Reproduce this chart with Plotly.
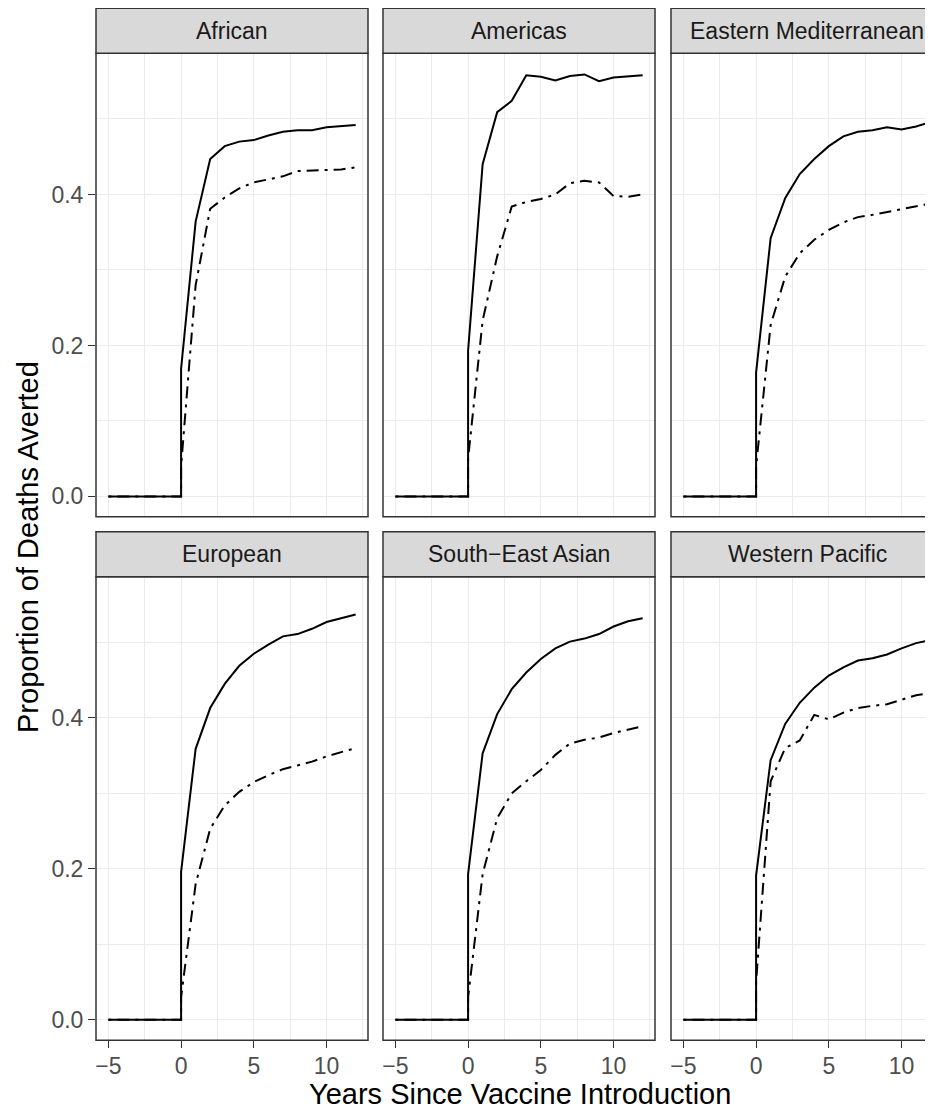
import plotly.graph_objects as go

# ---------------- data ----------------
regions = ["African", "Americas", "Eastern Mediterranean",
           "European", "South\u2212East Asian", "Western Pacific"]
years = [-5, -4, -3, -2, -1, 0, 0, 1, 2, 3, 4, 5, 6, 7, 8, 9, 10, 11, 12]
pre = [0, 0, 0, 0, 0, 0]

african_solid = pre + [0.169, 0.364, 0.447, 0.464, 0.470, 0.472, 0.478, 0.483, 0.485, 0.485, 0.489, 0.491, 0.492]
african_dash = pre + [0.040, 0.280, 0.381, 0.396, 0.408, 0.416, 0.420, 0.424, 0.431, 0.432, 0.432, 0.433, 0.436]
americas_solid = pre + [0.193, 0.440, 0.509, 0.524, 0.558, 0.556, 0.551, 0.557, 0.559, 0.550, 0.555, 0.556, 0.558]
americas_dash = pre + [0.050, 0.233, 0.318, 0.384, 0.390, 0.394, 0.400, 0.415, 0.418, 0.416, 0.398, 0.397, 0.400]
emed_solid = pre + [0.164, 0.342, 0.395, 0.427, 0.447, 0.464, 0.477, 0.483, 0.485, 0.489, 0.486, 0.490, 0.496]
emed_dash = pre + [0.040, 0.227, 0.291, 0.322, 0.340, 0.353, 0.363, 0.370, 0.373, 0.377, 0.381, 0.384, 0.388]
euro_solid = pre + [0.196, 0.359, 0.413, 0.445, 0.469, 0.485, 0.497, 0.508, 0.511, 0.518, 0.527, 0.532, 0.537]
euro_dash = pre + [0.030, 0.180, 0.253, 0.284, 0.302, 0.315, 0.324, 0.332, 0.337, 0.342, 0.349, 0.355, 0.360]
sea_solid = pre + [0.193, 0.353, 0.405, 0.438, 0.460, 0.478, 0.492, 0.501, 0.505, 0.511, 0.521, 0.528, 0.532]
sea_dash = pre + [0.030, 0.193, 0.267, 0.300, 0.316, 0.331, 0.351, 0.366, 0.371, 0.374, 0.380, 0.384, 0.389]
wp_solid = pre + [0.191, 0.344, 0.392, 0.420, 0.440, 0.456, 0.467, 0.476, 0.479, 0.484, 0.492, 0.499, 0.503]
wp_dash = pre + [0.050, 0.316, 0.360, 0.370, 0.404, 0.398, 0.407, 0.413, 0.416, 0.418, 0.424, 0.430, 0.433]

solid_series = [african_solid, americas_solid, emed_solid, euro_solid, sea_solid, wp_solid]
dash_series = [african_dash, americas_dash, emed_dash, euro_dash, sea_dash, wp_dash]

x_tickvals = [-5, 0, 5, 10]
x_ticktext = ["\u22125", "0", "5", "10"]
x_minor = [-2.5, 2.5, 7.5, 12.5]
y_tickvals = [0.0, 0.2, 0.4]
y_ticktext = ["0.0", "0.2", "0.4"]
y_minor = [0.1, 0.3, 0.5]

x_title = "Years Since Vaccine Introduction"
y_title = "Proportion of Deaths Averted"

# ---------------- layout geometry (pixels) ----------------
# The page body has an 8px margin, so figure pixels = window pixels - 8.
OFF = 8
WIN_W, WIN_H = 933, 1113
W, H = WIN_W - OFF, WIN_H - OFF
col_left = [96 - OFF, 383 - OFF, 671 - OFF]
panel_w = 272
row_top = [53.3 - OFF, 576.7 - OFF]
panel_h = 463.5
strip_h = 45
x_range = [-5.85, 12.85]
y_range = [-0.027, 0.587]
px_per_unit = panel_w / (x_range[1] - x_range[0])

FONT = "Liberation Sans, Arial, Helvetica, sans-serif"
GRID = "#EBEBEB"
BORDER = "#333333"

fig = go.Figure()
layout = dict(
    width=W, height=H, autosize=False,
    margin=dict(l=0, r=0, t=0, b=0),
    paper_bgcolor="white", plot_bgcolor="white",
    showlegend=False,
    font=dict(family=FONT, color="#4D4D4D", size=23),
)
shapes = []
annotations = []

for i, name in enumerate(regions):
    r, c = divmod(i, 3)
    left = col_left[c]
    right_full = left + panel_w
    right_vis = min(right_full, W)
    top = row_top[r]
    bottom = top + panel_h
    xr = [x_range[0], x_range[0] + (right_vis - left) / px_per_unit]
    suffix = "" if i == 0 else str(i + 1)
    xa = "xaxis" + suffix
    ya = "yaxis" + suffix

    layout[xa] = dict(
        domain=[left / W, right_vis / W], range=xr, anchor="y" + suffix,
        tickvals=x_tickvals, ticktext=x_ticktext,
        showgrid=True, gridcolor=GRID, gridwidth=1.4, zeroline=False,
        minor=dict(tickvals=x_minor, showgrid=True, gridcolor=GRID, gridwidth=0.7, ticks=""),
        showticklabels=(r == 1),
        ticks="outside" if r == 1 else "", ticklen=7, tickwidth=1.4, tickcolor=BORDER,
        ticklabelstandoff=-2,
        tickfont=dict(size=23, color="#4D4D4D", family=FONT),
        showline=False, fixedrange=True,
    )
    layout[ya] = dict(
        domain=[1 - bottom / H, 1 - top / H], range=y_range, anchor="x" + suffix,
        tickvals=y_tickvals, ticktext=y_ticktext,
        showgrid=True, gridcolor=GRID, gridwidth=1.4, zeroline=False,
        minor=dict(tickvals=y_minor, showgrid=True, gridcolor=GRID, gridwidth=0.7, ticks=""),
        showticklabels=(c == 0),
        ticks="outside" if c == 0 else "", ticklen=7, tickwidth=1.4, tickcolor=BORDER,
        tickfont=dict(size=23, color="#4D4D4D", family=FONT),
        showline=False, fixedrange=True,
    )

    fig.add_trace(go.Scatter(
        x=years, y=dash_series[i], mode="lines", xaxis="x" + suffix, yaxis="y" + suffix,
        line=dict(color="black", width=2, dash="3px,6px,12px,6px"), hoverinfo="skip",
    ))
    fig.add_trace(go.Scatter(
        x=years, y=solid_series[i], mode="lines", xaxis="x" + suffix, yaxis="y" + suffix,
        line=dict(color="black", width=2), hoverinfo="skip",
    ))

    # panel border
    shapes.append(dict(type="rect", xref="paper", yref="paper",
                       x0=left / W, x1=right_full / W, y0=1 - bottom / H, y1=1 - top / H,
                       line=dict(color=BORDER, width=1.5), fillcolor="rgba(0,0,0,0)", layer="above"))
    # strip
    shapes.append(dict(type="rect", xref="paper", yref="paper",
                       x0=left / W, x1=right_full / W, y0=1 - top / H, y1=1 - (top - strip_h) / H,
                       line=dict(color=BORDER, width=1.5), fillcolor="#D9D9D9", layer="above"))
    annotations.append(dict(
        text=name, xref="paper", yref="paper",
        x=(left + right_full) / 2 / W, y=1 - (top - strip_h / 2) / H,
        xanchor="center", yanchor="middle", showarrow=False,
        font=dict(size=23, color="#1A1A1A", family=FONT),
    ))

annotations.append(dict(
    text=x_title, xref="paper", yref="paper",
    x=(col_left[0] + col_left[2] + panel_w) / 2 / W, y=1 - (1094 - OFF) / H,
    xanchor="center", yanchor="middle", showarrow=False,
    font=dict(size=29, color="black", family=FONT),
))
annotations.append(dict(
    text=y_title, xref="paper", yref="paper",
    x=(28 - OFF) / W, y=1 - (547 - OFF) / H, textangle=-90,
    xanchor="center", yanchor="middle", showarrow=False,
    font=dict(size=29, color="black", family=FONT),
))

layout["shapes"] = shapes
layout["annotations"] = annotations
fig.update_layout(**layout)
fig.write_html("out.html", config={"displayModeBar": False})
